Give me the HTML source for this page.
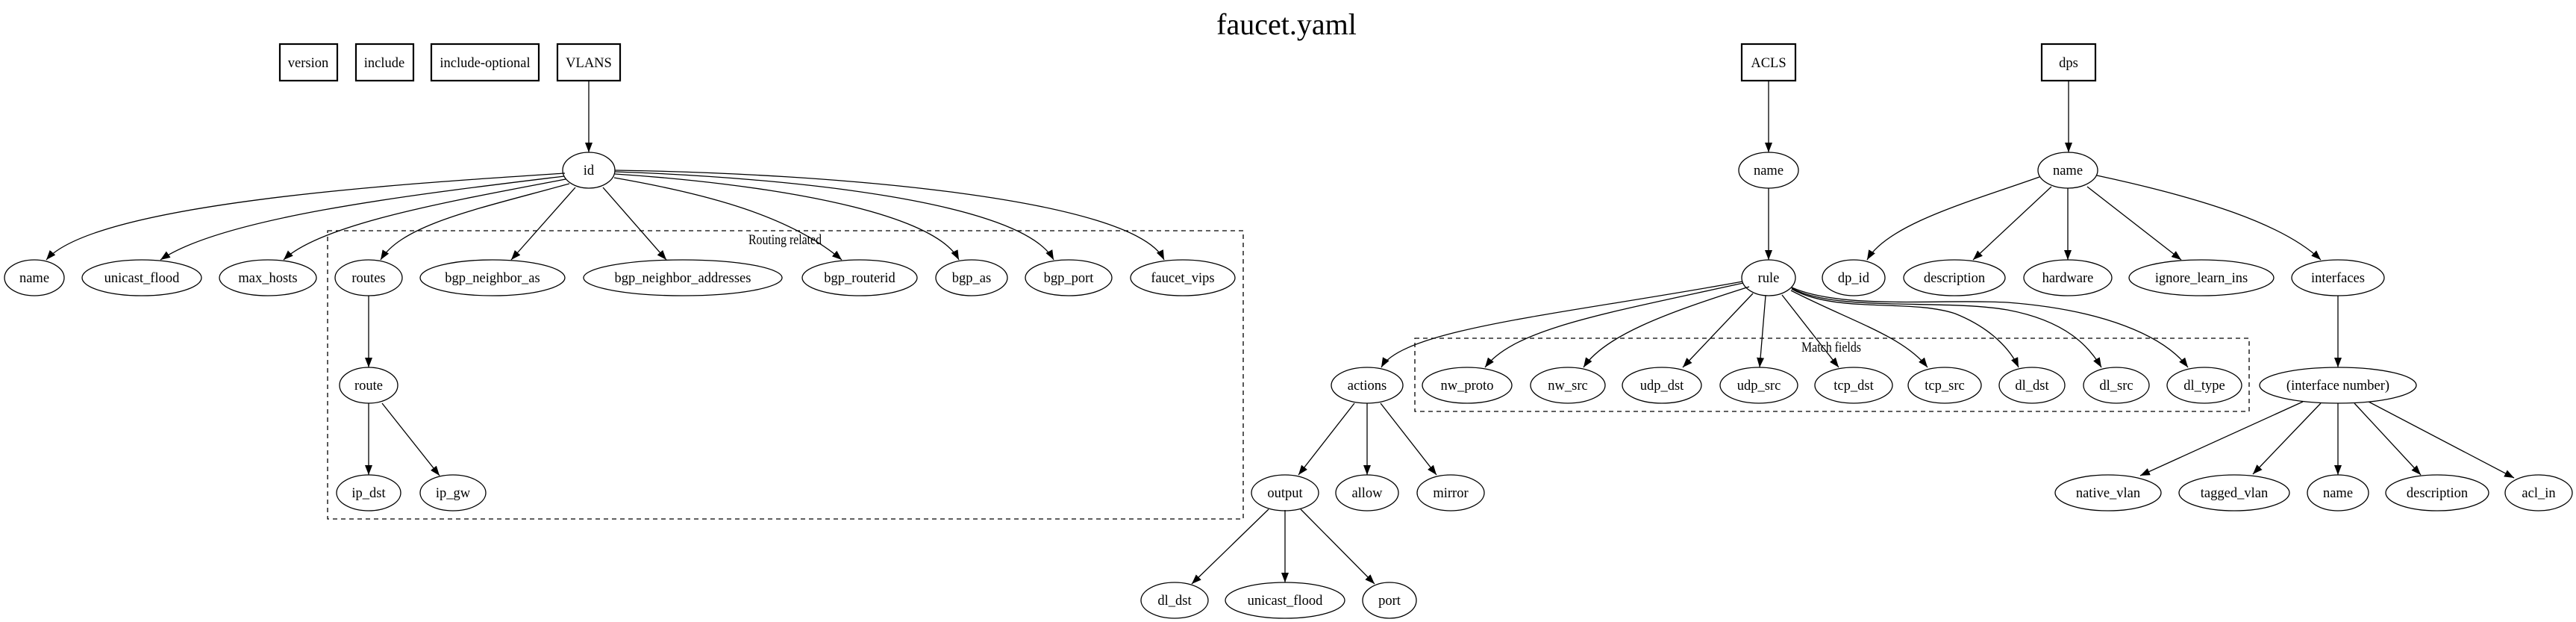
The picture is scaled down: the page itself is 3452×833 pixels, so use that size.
<!DOCTYPE html>
<html><head><meta charset="utf-8"><style>
html,body{margin:0;padding:0;background:#fff;}
svg{display:block;}
text{font-family:"Liberation Serif",serif;font-size:18.5px;fill:#000;}
</style></head><body>
<svg width="3452" height="833" viewBox="0 0 3452 833" xmlns="http://www.w3.org/2000/svg">
<defs>
<marker id="a" markerUnits="userSpaceOnUse" markerWidth="14" markerHeight="10" refX="13" refY="5" orient="auto">
<path d="M0,0 L13,5 L0,10 Z" fill="#000"/>
</marker>
</defs>
<rect width="3452" height="833" fill="#fff"/>
<text x="1724" y="46" text-anchor="middle" style="font-size:40px">faucet.yaml</text>

<!-- clusters -->
<g fill="none" stroke="#000" stroke-width="1.3" stroke-dasharray="6,5">
<rect x="439" y="309" width="1227" height="386"/>
<rect x="1896" y="453" width="1118" height="98"/>
</g>
<text x="1052" y="327" text-anchor="middle" textLength="98" lengthAdjust="spacingAndGlyphs">Routing related</text>
<text x="2454" y="471" text-anchor="middle" textLength="80" lengthAdjust="spacingAndGlyphs">Match fields</text>

<!-- boxes -->
<g fill="none" stroke="#000" stroke-width="2.2">
<rect x="375" y="59" width="77" height="49"/>
<rect x="477" y="59" width="77" height="49"/>
<rect x="578" y="59" width="144" height="49"/>
<rect x="747" y="59" width="84" height="49"/>
<rect x="2334" y="59" width="72" height="49"/>
<rect x="2736" y="59" width="72" height="49"/>
</g>
<g text-anchor="middle">
<text x="413" y="90">version</text>
<text x="515" y="90">include</text>
<text x="650" y="90">include-optional</text>
<text x="789" y="90">VLANS</text>
<text x="2370" y="90">ACLS</text>
<text x="2772" y="90">dps</text>
</g>

<!-- edges -->
<g fill="none" stroke="#000" stroke-width="1.3" marker-end="url(#a)">
<path d="M789,108 L789,204"/>
<path d="M757,232 C560,245 130,270 62,348"/>
<path d="M756,236 C560,260 300,290 215,348"/>
<path d="M758,240 C600,270 430,300 380,348"/>
<path d="M763,246 C640,280 540,300 510,348"/>
<path d="M771,251 L685,348"/>
<path d="M808,251 L893,348"/>
<path d="M823,238 C950,260 1060,290 1128,348"/>
<path d="M824,233 C1010,245 1250,280 1285,348"/>
<path d="M824,230 C1060,238 1370,270 1412,348"/>
<path d="M824,228 C1110,232 1520,265 1560,348"/>
<path d="M494,396 L494,492"/>
<path d="M494,540 L494,636"/>
<path d="M512,540 L589,637"/>

<path d="M2370,108 L2370,204"/>
<path d="M2370,252 L2370,348"/>
<path d="M2335,377 C2100,420 1880,440 1851,492"/>
<path d="M2336,379 C2150,420 2030,440 1990,492"/>
<path d="M2344,384 C2230,420 2150,450 2122,492"/>
<path d="M2349,393 L2255,492"/>
<path d="M2366,396 L2358,492"/>
<path d="M2388,395 L2464,492"/>
<path d="M2400,389 C2480,430 2550,450 2583,492"/>
<path d="M2401,387 C2460,420 2560,400 2620,420 C2670,440 2695,470 2705,492"/>
<path d="M2401,386 C2460,418 2600,400 2690,415 C2770,430 2800,465 2816,492"/>
<path d="M2401,385 C2470,415 2600,400 2690,405 C2820,415 2900,450 2932,492"/>

<path d="M1815,540 L1740,636"/>
<path d="M1832,540 L1832,636"/>
<path d="M1850,540 L1925,636"/>
<path d="M1700,682 L1597,782"/>
<path d="M1722,683 L1722,780"/>
<path d="M1743,682 L1842,782"/>

<path d="M2772,108 L2772,204"/>
<path d="M2733,237 C2640,270 2530,300 2502,348"/>
<path d="M2749,250 L2644,348"/>
<path d="M2771,252 L2771,348"/>
<path d="M2797,250 L2923,348"/>
<path d="M2810,235 C2950,265 3060,300 3110,348"/>
<path d="M3133,396 L3133,492"/>
<path d="M3086,538 L2868,637"/>
<path d="M3110,540 L3019,635"/>
<path d="M3133,540 L3133,636"/>
<path d="M3155,540 L3244,636"/>
<path d="M3174,538 L3369,640"/>
</g>

<!-- ellipses -->
<g fill="none" stroke="#000" stroke-width="1.3">
<ellipse cx="789" cy="228" rx="35" ry="24"/>
<ellipse cx="46" cy="372" rx="40" ry="24"/>
<ellipse cx="190" cy="372" rx="80" ry="24"/>
<ellipse cx="359" cy="372" rx="65" ry="24"/>
<ellipse cx="494" cy="372" rx="45" ry="24"/>
<ellipse cx="660" cy="372" rx="97" ry="24"/>
<ellipse cx="915" cy="372" rx="133" ry="24"/>
<ellipse cx="1152" cy="372" rx="77" ry="24"/>
<ellipse cx="1302" cy="372" rx="48" ry="24"/>
<ellipse cx="1432" cy="372" rx="58" ry="24"/>
<ellipse cx="1585" cy="372" rx="70" ry="24"/>
<ellipse cx="494" cy="516" rx="39" ry="24"/>
<ellipse cx="494" cy="660" rx="43" ry="24"/>
<ellipse cx="607" cy="660" rx="44" ry="24"/>

<ellipse cx="2370" cy="228" rx="40" ry="24"/>
<ellipse cx="2370" cy="372" rx="36" ry="24"/>
<ellipse cx="1832" cy="516" rx="48" ry="24"/>
<ellipse cx="1966" cy="516" rx="60" ry="24"/>
<ellipse cx="2101" cy="516" rx="50" ry="24"/>
<ellipse cx="2227" cy="516" rx="53" ry="24"/>
<ellipse cx="2357" cy="516" rx="52" ry="24"/>
<ellipse cx="2484" cy="516" rx="52" ry="24"/>
<ellipse cx="2606" cy="516" rx="49" ry="24"/>
<ellipse cx="2723" cy="516" rx="44" ry="24"/>
<ellipse cx="2836" cy="516" rx="44" ry="24"/>
<ellipse cx="2954" cy="516" rx="50" ry="24"/>
<ellipse cx="1722" cy="660" rx="45" ry="24"/>
<ellipse cx="1832" cy="660" rx="42" ry="24"/>
<ellipse cx="1944" cy="660" rx="45" ry="24"/>
<ellipse cx="1574" cy="804" rx="45" ry="24"/>
<ellipse cx="1722" cy="804" rx="80" ry="24"/>
<ellipse cx="1862" cy="804" rx="36" ry="24"/>

<ellipse cx="2771" cy="228" rx="40" ry="24"/>
<ellipse cx="2484" cy="372" rx="42" ry="24"/>
<ellipse cx="2619" cy="372" rx="68" ry="24"/>
<ellipse cx="2771" cy="372" rx="59" ry="24"/>
<ellipse cx="2950" cy="372" rx="97" ry="24"/>
<ellipse cx="3133" cy="372" rx="62" ry="24"/>
<ellipse cx="3133" cy="516" rx="105" ry="24"/>
<ellipse cx="2825" cy="660" rx="71" ry="24"/>
<ellipse cx="2994" cy="660" rx="74" ry="24"/>
<ellipse cx="3133" cy="660" rx="41" ry="24"/>
<ellipse cx="3266" cy="660" rx="69" ry="24"/>
<ellipse cx="3402" cy="660" rx="45" ry="24"/>
</g>

<g text-anchor="middle">
<text x="789" y="234">id</text>
<text x="46" y="378">name</text>
<text x="190" y="378">unicast_flood</text>
<text x="359" y="378">max_hosts</text>
<text x="494" y="378">routes</text>
<text x="660" y="378">bgp_neighbor_as</text>
<text x="915" y="378">bgp_neighbor_addresses</text>
<text x="1152" y="378">bgp_routerid</text>
<text x="1302" y="378">bgp_as</text>
<text x="1432" y="378">bgp_port</text>
<text x="1585" y="378">faucet_vips</text>
<text x="494" y="522">route</text>
<text x="494" y="666">ip_dst</text>
<text x="607" y="666">ip_gw</text>

<text x="2370" y="234">name</text>
<text x="2370" y="378">rule</text>
<text x="1832" y="522">actions</text>
<text x="1966" y="522">nw_proto</text>
<text x="2101" y="522">nw_src</text>
<text x="2227" y="522">udp_dst</text>
<text x="2357" y="522">udp_src</text>
<text x="2484" y="522">tcp_dst</text>
<text x="2606" y="522">tcp_src</text>
<text x="2723" y="522">dl_dst</text>
<text x="2836" y="522">dl_src</text>
<text x="2954" y="522">dl_type</text>
<text x="1722" y="666">output</text>
<text x="1832" y="666">allow</text>
<text x="1944" y="666">mirror</text>
<text x="1574" y="810">dl_dst</text>
<text x="1722" y="810">unicast_flood</text>
<text x="1862" y="810">port</text>

<text x="2771" y="234">name</text>
<text x="2484" y="378">dp_id</text>
<text x="2619" y="378">description</text>
<text x="2771" y="378">hardware</text>
<text x="2950" y="378">ignore_learn_ins</text>
<text x="3133" y="378">interfaces</text>
<text x="3133" y="522">(interface number)</text>
<text x="2825" y="666">native_vlan</text>
<text x="2994" y="666">tagged_vlan</text>
<text x="3133" y="666">name</text>
<text x="3266" y="666">description</text>
<text x="3402" y="666">acl_in</text>
</g>
</svg>
</body></html>
